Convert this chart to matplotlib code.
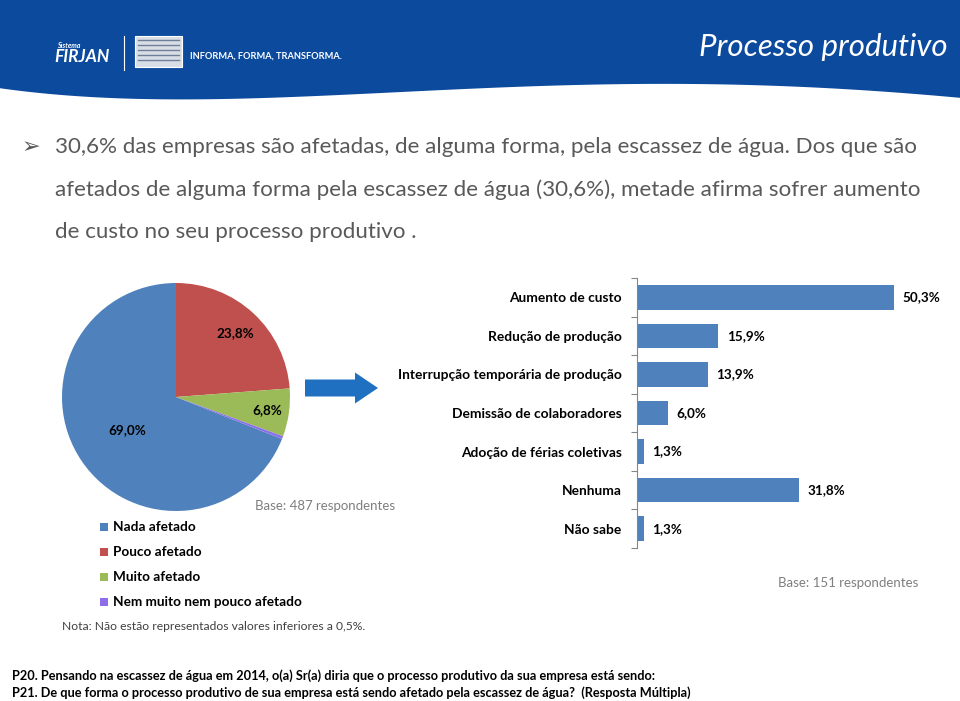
import numpy as np
import matplotlib
matplotlib.use("Agg")
import matplotlib.pyplot as plt
from matplotlib.patches import Rectangle, FancyArrow

plt.rcParams['font.family'] = ['Lato', 'DejaVu Sans']

# pie data (P20)
pie_labels = ["Nada afetado", "Pouco afetado", "Muito afetado", "Nem muito nem pouco afetado"]
pie_values = [69.0, 23.8, 6.8, 0.4]
pie_text = ["69,0%", "23,8%", "6,8%", ""]
pie_colors = ["#4F81BD", "#C0504D", "#9BBB59", "#8C6FE8"]

# bar data (P21)
bar_cats = ["Aumento de custo", "Redução de produção", "Interrupção temporária de produção",
            "Demissão de colaboradores", "Adoção de férias coletivas", "Nenhuma", "Não sabe"]
bar_values = [50.3, 15.9, 13.9, 6.0, 1.3, 31.8, 1.3]
bar_text = ["50,3%", "15,9%", "13,9%", "6,0%", "1,3%", "31,8%", "1,3%"]

W, H = 960, 701
fig = plt.figure(figsize=(W / 100, H / 100), dpi=100)

# background / slide layer in pixel coordinates
bg = fig.add_axes([0, 0, 1, 1])
bg.set_xlim(0, W)
bg.set_ylim(H, 0)
bg.axis("off")

# header band with wavy bottom
xs = np.linspace(0, W, 300)
ctrl_x = [0, 120, 300, 600, 850, 960]
ctrl_y = [88, 99, 96, 85, 89, 98]
coef = np.polyfit(ctrl_x, ctrl_y, 4)
bg.fill_between(xs, 0, np.polyval(coef, xs), color="#0C4A9D", lw=0)

bg.text(948, 47, "Processo produtivo", color="white", fontsize=22.5, style="italic",
        ha="right", va="center")
bg.text(57, 45, "Sistema", color="white", fontsize=5, style="italic", weight="bold",
        ha="left", va="center")
bg.text(54, 57, "FIRJAN", color="white", fontsize=12.5, style="italic", weight="bold",
        ha="left", va="center")
bg.plot([124, 124], [36, 70], color="white", lw=0.8)
bg.add_patch(Rectangle((135, 36), 47, 31, facecolor="#D9DEE6", edgecolor="white", lw=0.8))
for yy in range(40, 64, 5):
    bg.plot([138, 179], [yy, yy], color="#6E7F99", lw=1)
bg.text(190, 56, "INFORMA, FORMA, TRANSFORMA.", color="white", fontsize=6.7, weight="bold",
        ha="left", va="center")

# bullet text
gray = "#595959"
bg.text(22, 147, "\u27a2", color=gray, fontsize=16, family="DejaVu Sans", ha="left", va="center")
lines = ["30,6% das empresas são afetadas, de alguma forma, pela escassez de água. Dos que são",
         "afetados de alguma forma pela escassez de água (30,6%), metade afirma sofrer aumento",
         "de custo no seu processo produtivo ."]
for i, ln in enumerate(lines):
    bg.text(55, 147 + i * 42.5, ln, color=gray, fontsize=16.1, ha="left", va="center")

# arrow
bg.add_patch(FancyArrow(305, 388, 50, 0, width=17, head_width=31, head_length=23,
                        length_includes_head=False, color="#1F70C1", lw=0))

# legend of pie
for i, (lab, col) in enumerate(zip(pie_labels, pie_colors)):
    y = 527 + i * 25
    bg.add_patch(Rectangle((100, y - 4), 8, 8, facecolor=col, edgecolor="none"))
    bg.text(113, y, lab, fontsize=9.8, weight="bold", ha="left", va="center")

bg.text(255, 506, "Base: 487 respondentes", color="#7F7F7F", fontsize=9.5, ha="left", va="center")
bg.text(918, 583, "Base: 151 respondentes", color="#7F7F7F", fontsize=9.5, ha="right", va="center")
bg.text(62, 626, "Nota: Não estão representados valores inferiores a 0,5%.", color="#404040",
        fontsize=8.7, ha="left", va="center")
bg.text(12, 676, "P20. Pensando na escassez de água em 2014, o(a) Sr(a) diria que o processo produtivo da sua empresa está sendo:",
        fontsize=9.2, weight="bold", ha="left", va="center")
bg.text(12, 693, "P21. De que forma o processo produtivo de sua empresa está sendo afetado pela escassez de água?  (Resposta Múltipla)",
        fontsize=9.2, weight="bold", ha="left", va="center")

# pie chart
cx, cy, r = 176, 397, 114
pax = fig.add_axes([(cx - r) / W, 1 - (cy + r) / H, 2 * r / W, 2 * r / H])
wedges, _ = pax.pie(pie_values, colors=pie_colors, startangle=90 + pie_values[0] * 3.6,
                    counterclock=False, wedgeprops=dict(linewidth=0))
pax.set_xlim(-1, 1)
pax.set_ylim(-1, 1)
dists = [0.52, 0.77, 0.81, 0]
for w, t, d in zip(wedges, pie_text, dists):
    if not t:
        continue
    ang = np.deg2rad((w.theta1 + w.theta2) / 2)
    pax.text(d * np.cos(ang), d * np.sin(ang), t, fontsize=9.7, weight="bold",
             ha="center", va="center")

# bar chart
px_per_pct = 5.11
left, right, top, bottom = 637, 950, 278, 548
bax = fig.add_axes([left / W, 1 - bottom / H, (right - left) / W, (bottom - top) / H])
ypos = np.arange(len(bar_cats))
bax.barh(ypos, bar_values, height=0.64, color="#4F81BD")
bax.set_xlim(0, (right - left) / px_per_pct)
bax.set_ylim(len(bar_cats) - 0.5, -0.5)
for s in ["top", "right", "bottom"]:
    bax.spines[s].set_visible(False)
bax.spines["left"].set_color("#868686")
bax.spines["left"].set_linewidth(0.8)
bax.set_xticks([])
bax.set_yticks(ypos)
bax.set_yticklabels(bar_cats, fontsize=9.9, weight="bold")
bax.tick_params(axis="y", which="major", length=0, pad=11)
bax.set_yticks(np.arange(-0.5, len(bar_cats)), minor=True)
bax.tick_params(axis="y", which="minor", length=4, color="#868686", width=0.8)
for yv, v, t in zip(ypos, bar_values, bar_text):
    bax.text(v + 8.5 / px_per_pct, yv, t, fontsize=9.7, weight="bold", ha="left", va="center")

fig.savefig("out.png", dpi=100)
